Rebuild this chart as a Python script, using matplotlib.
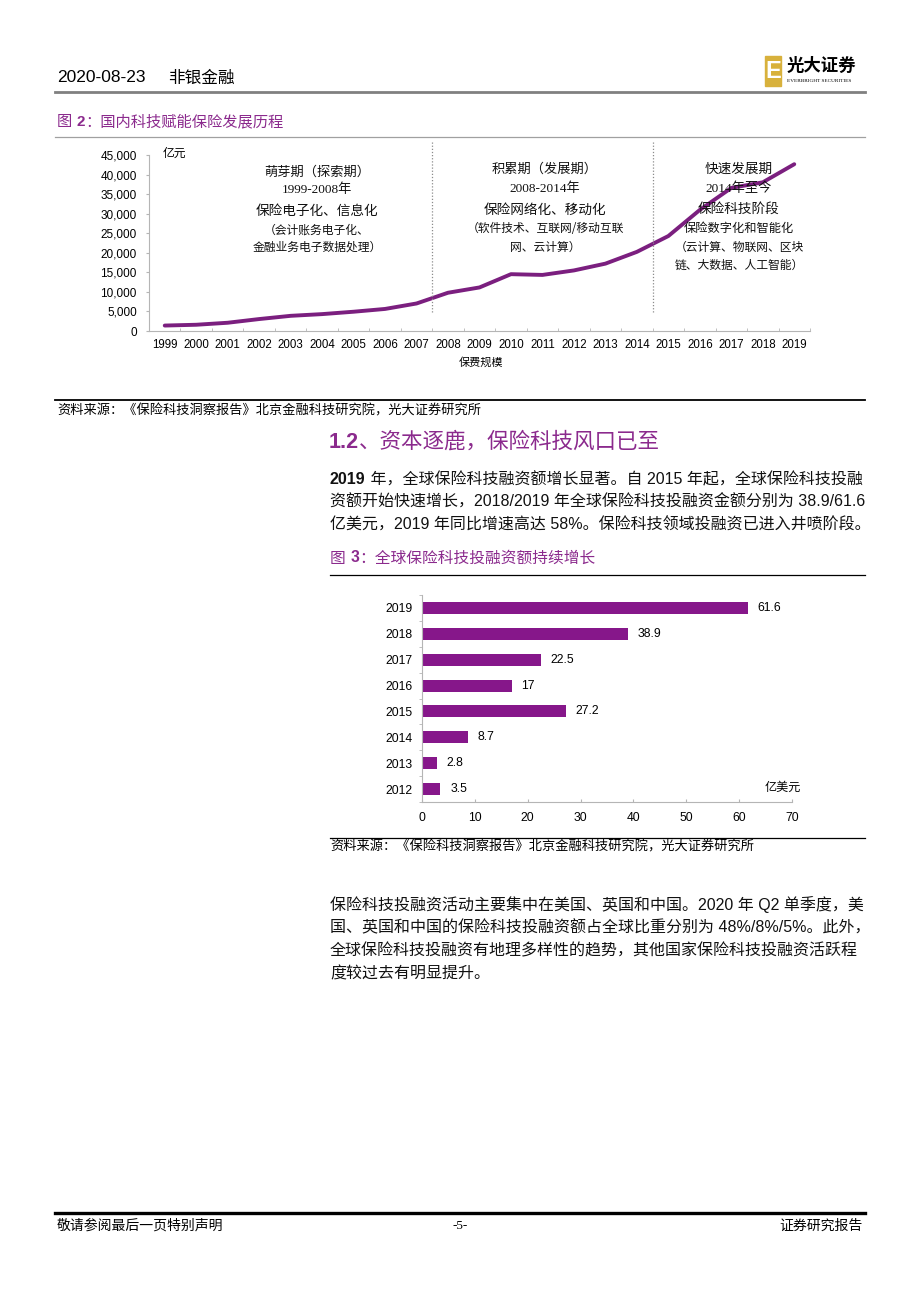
import matplotlib
matplotlib.use('Agg')
import matplotlib.pyplot as plt
from matplotlib.patches import Rectangle
from matplotlib.lines import Line2D

W, H = 920, 1301
SANS = ['Liberation Sans', 'Noto Sans CJK SC']
SERIF = ['Liberation Serif', 'Noto Sans CJK SC']
CJK = ['Noto Sans CJK SC', 'Liberation Sans']
PURPLE = '#8b2a8d'
LINE_C = '#7b1f7f'
BAR_C = '#86178a'
AXIS_C = '#b5b5b5'

# figure 2: premium income, 100 million yuan
years = [str(y) for y in range(1999, 2020)]
premium = [1393, 1596, 2109, 3054, 3880, 4318, 4928, 5641, 7036, 9784, 11137,
           14528, 14339, 15488, 17222, 20235, 24283, 30959, 36581, 38017, 42645]
y1_ticks = [0, 5000, 10000, 15000, 20000, 25000, 30000, 35000, 40000, 45000]
stage_bounds = [8.5, 15.5]

# figure 3: global insurtech funding, 100 million USD
fund_years = ['2012', '2013', '2014', '2015', '2016', '2017', '2018', '2019']
fund_values = [3.5, 2.8, 8.7, 27.2, 17, 22.5, 38.9, 61.6]
x2_ticks = [0, 10, 20, 30, 40, 50, 60, 70]

para1 = ['资额开始快速增长，2018/2019 年全球保险科技投融资金额分别为 38.9/61.6',
         '亿美元，2019 年同比增速高达 58%。保险科技领域投融资已进入井喷阶段。']
para2 = ['保险科技投融资活动主要集中在美国、英国和中国。2020 年 Q2 单季度，美',
         '国、英国和中国的保险科技投融资额占全球比重分别为 48%/8%/5%。此外，',
         '全球保险科技投融资有地理多样性的趋势，其他国家保险科技投融资活跃程',
         '度较过去有明显提升。']
source = '资料来源：《保险科技洞察报告》北京金融科技研究院，光大证券研究所'

fig = plt.figure(figsize=(W / 100, H / 100), dpi=100)
fig.patch.set_facecolor('white')
renderer = fig.canvas.get_renderer()


def fx(x):
    return x / W


def fy(y):
    return 1 - y / H


def txt(x, y, s, size, family=SANS, ha='left', **kw):
    return fig.text(fx(x), fy(y), s, fontsize=size, family=family, ha=ha,
                    va='center', **kw)


def runs(x, y, parts, size, color='#111111', family=SANS):
    for s, weight in parts:
        t = txt(x, y, s, size, family=family, color=color, weight=weight)
        x += t.get_window_extent(renderer=renderer).width


def hline(x0, x1, y, lw, color='black'):
    fig.add_artist(Line2D([fx(x0), fx(x1)], [fy(y), fy(y)], lw=lw, color=color))


# header
txt(57, 78, '2020-08-23', 12.5)
txt(168, 78, '非银金融', 12, family=CJK)
fig.add_artist(Rectangle((fx(765), fy(86)), 16 / W, 30 / H, color='#d8b13c',
                         transform=fig.transFigure))
txt(773, 71, 'E', 17, color='white', weight='bold', ha='center')
txt(787, 66, '光大证券', 12.5, family=CJK, weight='bold')
txt(787, 81, 'EVERBRIGHT SECURITIES', 3.8, family=SERIF)
hline(55, 865, 92, 2, '#808080')

# figure 2 title
runs(57, 122, [('图 ', 'normal'), ('2', 'bold'), ('：国内科技赋能保险发展历程', 'normal')],
     11, color=PURPLE)
hline(55, 865, 137, 0.9, '#a0a0a0')

ax1 = fig.add_axes([fx(149), fy(331), (810 - 149) / W, (331 - 155) / H])
ax1.plot(range(len(years)), premium, color=LINE_C, lw=2.8,
         solid_capstyle='round', solid_joinstyle='round')
ax1.set_xlim(-0.5, len(years) - 0.5)
ax1.set_ylim(0, 45000)
ax1.set_xticks(range(len(years)))
ax1.set_xticklabels(years, family=SANS)
ax1.set_xticks([i + 0.5 for i in range(-1, len(years))], minor=True)
ax1.tick_params(axis='x', which='major', length=0, pad=6, labelsize=8.3)
ax1.tick_params(axis='x', which='minor', length=2.5, color=AXIS_C, direction='in')
ax1.set_yticks(y1_ticks)
ax1.set_yticklabels([f'{v:,}' for v in y1_ticks], family=SANS)
ax1.tick_params(axis='y', length=2.2, color=AXIS_C, labelsize=8.5, pad=6.5)
for s in ['top', 'right']:
    ax1.spines[s].set_visible(False)
for s in ['left', 'bottom']:
    ax1.spines[s].set_color(AXIS_C)
for b in stage_bounds:
    ax1.axvline(b, ymin=0.108, ymax=1.074, color='#8c8c8c', lw=0.9,
                ls=(0, (1, 1.5)), clip_on=False)
txt(163, 153, '亿元', 8.5, family=CJK)
txt(481, 362, '保费规模', 8, family=CJK, ha='center')

stage_text = [
    (317, [(172, '萌芽期（探索期）', 9.5, CJK), (190, '1999-2008年', 9.5, SERIF),
           (211, '保险电子化、信息化', 9.8, CJK), (230, '（会计账务电子化、', 8.5, CJK),
           (247, '金融业务电子数据处理）', 8.5, CJK)]),
    (545, [(169, '积累期（发展期）', 9.5, CJK), (189, '2008-2014年', 9.5, SERIF),
           (210, '保险网络化、移动化', 9.8, CJK), (229, '（软件技术、互联网/移动互联', 8.5, CJK),
           (247, '网、云计算）', 8.5, CJK)]),
    (739, [(169, '快速发展期', 9.8, CJK), (189, '2014年至今', 9.5, SERIF),
           (209, '保险科技阶段', 9.8, CJK), (228, '保险数字化和智能化', 8.8, CJK),
           (247, '（云计算、物联网、区块', 8.5, CJK), (265, '链、大数据、人工智能）', 8.5, CJK)]),
]
for cx, rows in stage_text:
    for y, s, size, fam in rows:
        txt(cx, y, s, size, family=fam, ha='center', color='#111111')

hline(55, 865, 400, 1.3)
txt(57, 411, source, 9.5, family=CJK)

# section 1.2
runs(329, 442, [('1.2', 'bold'), ('、资本逐鹿，保险科技风口已至', 'normal')], 15.5, color=PURPLE)
runs(330, 480, [('2019', 'bold'), (' 年，全球保险科技融资额增长显著。自 2015 年起，全球保险科技投融', 'normal')], 11.5)
for i, line in enumerate(para1):
    txt(330, 502 + i * 23, line, 11.5, color='#111111')

runs(330, 558, [('图 ', 'normal'), ('3', 'bold'), ('：全球保险科技投融资额持续增长', 'normal')],
     11.3, color=PURPLE)
hline(330, 865, 575, 0.9)

ax2 = fig.add_axes([fx(422), fy(802), (792 - 422) / W, (802 - 595) / H])
ax2.barh(range(len(fund_years)), fund_values, height=0.46, color=BAR_C)
ax2.set_xlim(0, 70)
ax2.set_ylim(-0.5, len(fund_years) - 0.5)
ax2.set_yticks(range(len(fund_years)))
ax2.set_yticklabels(fund_years, family=SANS)
ax2.set_yticks([i - 0.5 for i in range(len(fund_years) + 1)], minor=True)
ax2.tick_params(axis='y', which='major', length=0, pad=6.5, labelsize=8.7)
ax2.tick_params(axis='y', which='minor', length=2.2, color=AXIS_C)
ax2.set_xticks(x2_ticks)
ax2.set_xticklabels([str(v) for v in x2_ticks], family=SANS)
ax2.tick_params(axis='x', length=2.2, direction='in', color=AXIS_C, labelsize=8.7, pad=7.5)
for s in ['top', 'right']:
    ax2.spines[s].set_visible(False)
for s in ['left', 'bottom']:
    ax2.spines[s].set_color(AXIS_C)
for i, v in enumerate(fund_values):
    ax2.annotate(f'{v:g}', (v, i), xytext=(7, 0), textcoords='offset points',
                 va='center', ha='left', fontsize=8.8, family=SANS)
txt(801, 787, '亿美元', 8.7, family=CJK, ha='right')

hline(330, 865, 838, 0.9)
txt(330, 847, source, 9.5, family=CJK)

for i, line in enumerate(para2):
    txt(330, 905 + i * 23, line, 11.5, color='#111111')

# footer
hline(55, 865, 1213, 2.4)
txt(57, 1226, '敬请参阅最后一页特别声明', 10, family=CJK)
txt(460, 1226, '-5-', 9.5, family=SERIF, ha='center')
txt(863, 1226, '证券研究报告', 10, family=CJK, ha='right')

fig.savefig('out.png', dpi=100)
